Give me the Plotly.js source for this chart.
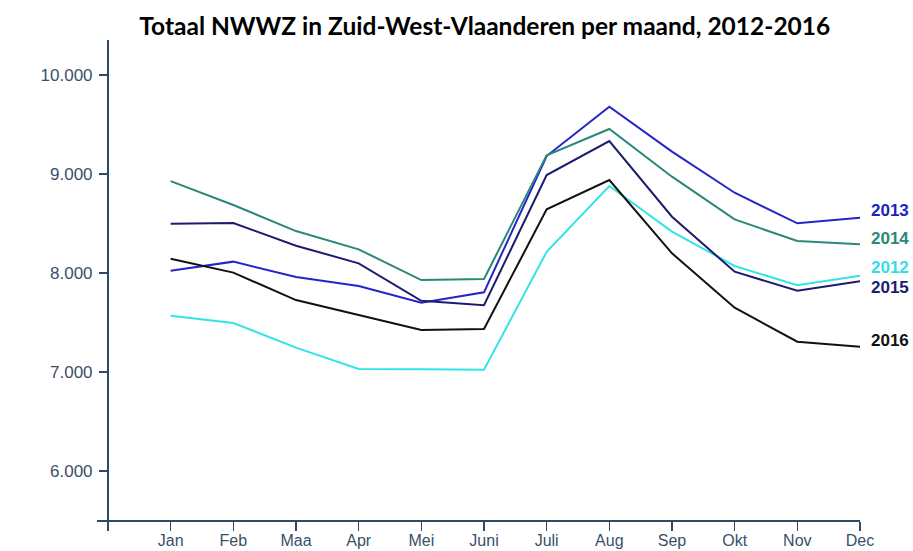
<!DOCTYPE html>
<html>
<head>
<meta charset="utf-8">
<script src="https://cdn.plot.ly/plotly-3.0.1.min.js"></script>
<style>html,body{margin:0;padding:0;background:#fff;}#chart{width:913px;height:551px;}</style>
</head>
<body>
<div id="chart"></div>
<script>
const months = ['Jan','Feb','Maa','Apr','Mei','Juni','Juli','Aug','Sep','Okt','Nov','Dec'];
const years = ['2012','2013','2014','2015','2016'];
const v2012 = [7569, 7495, 7246, 7030, 7027, 7023, 8215, 8879, 8418, 8071, 7876, 7973];
const v2013 = [8024, 8115, 7960, 7869, 7700, 7805, 9182, 9680, 9226, 8811, 8502, 8559];
const v2014 = [8929, 8687, 8424, 8239, 7929, 7939, 9190, 9455, 8973, 8542, 8323, 8290];
const v2015 = [8498, 8505, 8276, 8098, 7720, 7674, 8990, 9333, 8569, 8013, 7822, 7916];
const v2016 = [8145, 8004, 7727, 7576, 7424, 7434, 8643, 8939, 8199, 7650, 7306, 7256];
const yTicks = [6000, 7000, 8000, 9000, 10000];

const series = [v2012, v2013, v2014, v2015, v2016];
const colors = ['#33e3e6', '#2424c8', '#2a8878', '#1c1c6e', '#111111'];
const labelColors = ['#35dde6', '#1f1fbf', '#2a8878', '#1c1c6e', '#111111'];
const labelShift = [8, 7, 6, -6, 6];

const xIdx = months.map((m, i) => i);
const traces = series.map((s, k) => ({
  type: 'scatter', mode: 'lines', x: xIdx, y: s, name: years[k],
  line: {color: colors[k], width: 2}, hoverinfo: 'skip', showlegend: false
}));

const axisColor = '#2f4a66';
const yTickFont = {family: 'Liberation Sans, Arial, sans-serif', size: 17, color: '#3a5068'};
const xTickFont = {family: 'Liberation Sans, Arial, sans-serif', size: 16, color: '#3a5068'};

const annotations = series.map((s, k) => ({
  xref: 'x', yref: 'y', x: xIdx[xIdx.length - 1], y: s[s.length - 1],
  text: '<b>' + years[k] + '</b>', showarrow: false, xanchor: 'left', yanchor: 'middle',
  xshift: 9, yshift: labelShift[k],
  font: {family: 'Liberation Sans, Arial, sans-serif', size: 17, color: labelColors[k]}
}));

const layout = {
  width: 913, height: 551,
  margin: {l: 97, r: 53, t: 40, b: 31},
  paper_bgcolor: '#fff', plot_bgcolor: '#fff',
  separators: ',.',
  title: {text: '<b>Totaal NWWZ in Zuid-West-Vlaanderen per maand, 2012-2016</b>',
          font: {family: 'Lato, Open Sans, sans-serif', size: 24.5, color: '#000'},
          x: 0.531, xanchor: 'center', y: 0.952, yanchor: 'middle'},
  xaxis: {
    range: [-1.1755, 11], tickmode: 'array',
    tickvals: [-1].concat(xIdx), ticktext: [''].concat(months),
    showgrid: false, zeroline: false, showline: true, linecolor: axisColor, linewidth: 2,
    ticks: 'outside', ticklen: 9, tickwidth: 1.5, tickcolor: axisColor,
    ticklabelstandoff: -4,
    tickfont: xTickFont, fixedrange: true
  },
  yaxis: {
    range: [5505, 10354], anchor: 'free', position: 0.0144,
    tickmode: 'array', tickvals: yTicks, tickformat: ',d',
    showgrid: false, zeroline: false, showline: true, linecolor: axisColor, linewidth: 2,
    ticks: 'outside', ticklen: 8, tickwidth: 1.5, tickcolor: axisColor,
    ticklabelstandoff: 3,
    tickfont: yTickFont, fixedrange: true
  },
  annotations: annotations,
  showlegend: false
};

Plotly.newPlot('chart', traces, layout, {displayModeBar: false, staticPlot: true});
</script>
</body>
</html>
